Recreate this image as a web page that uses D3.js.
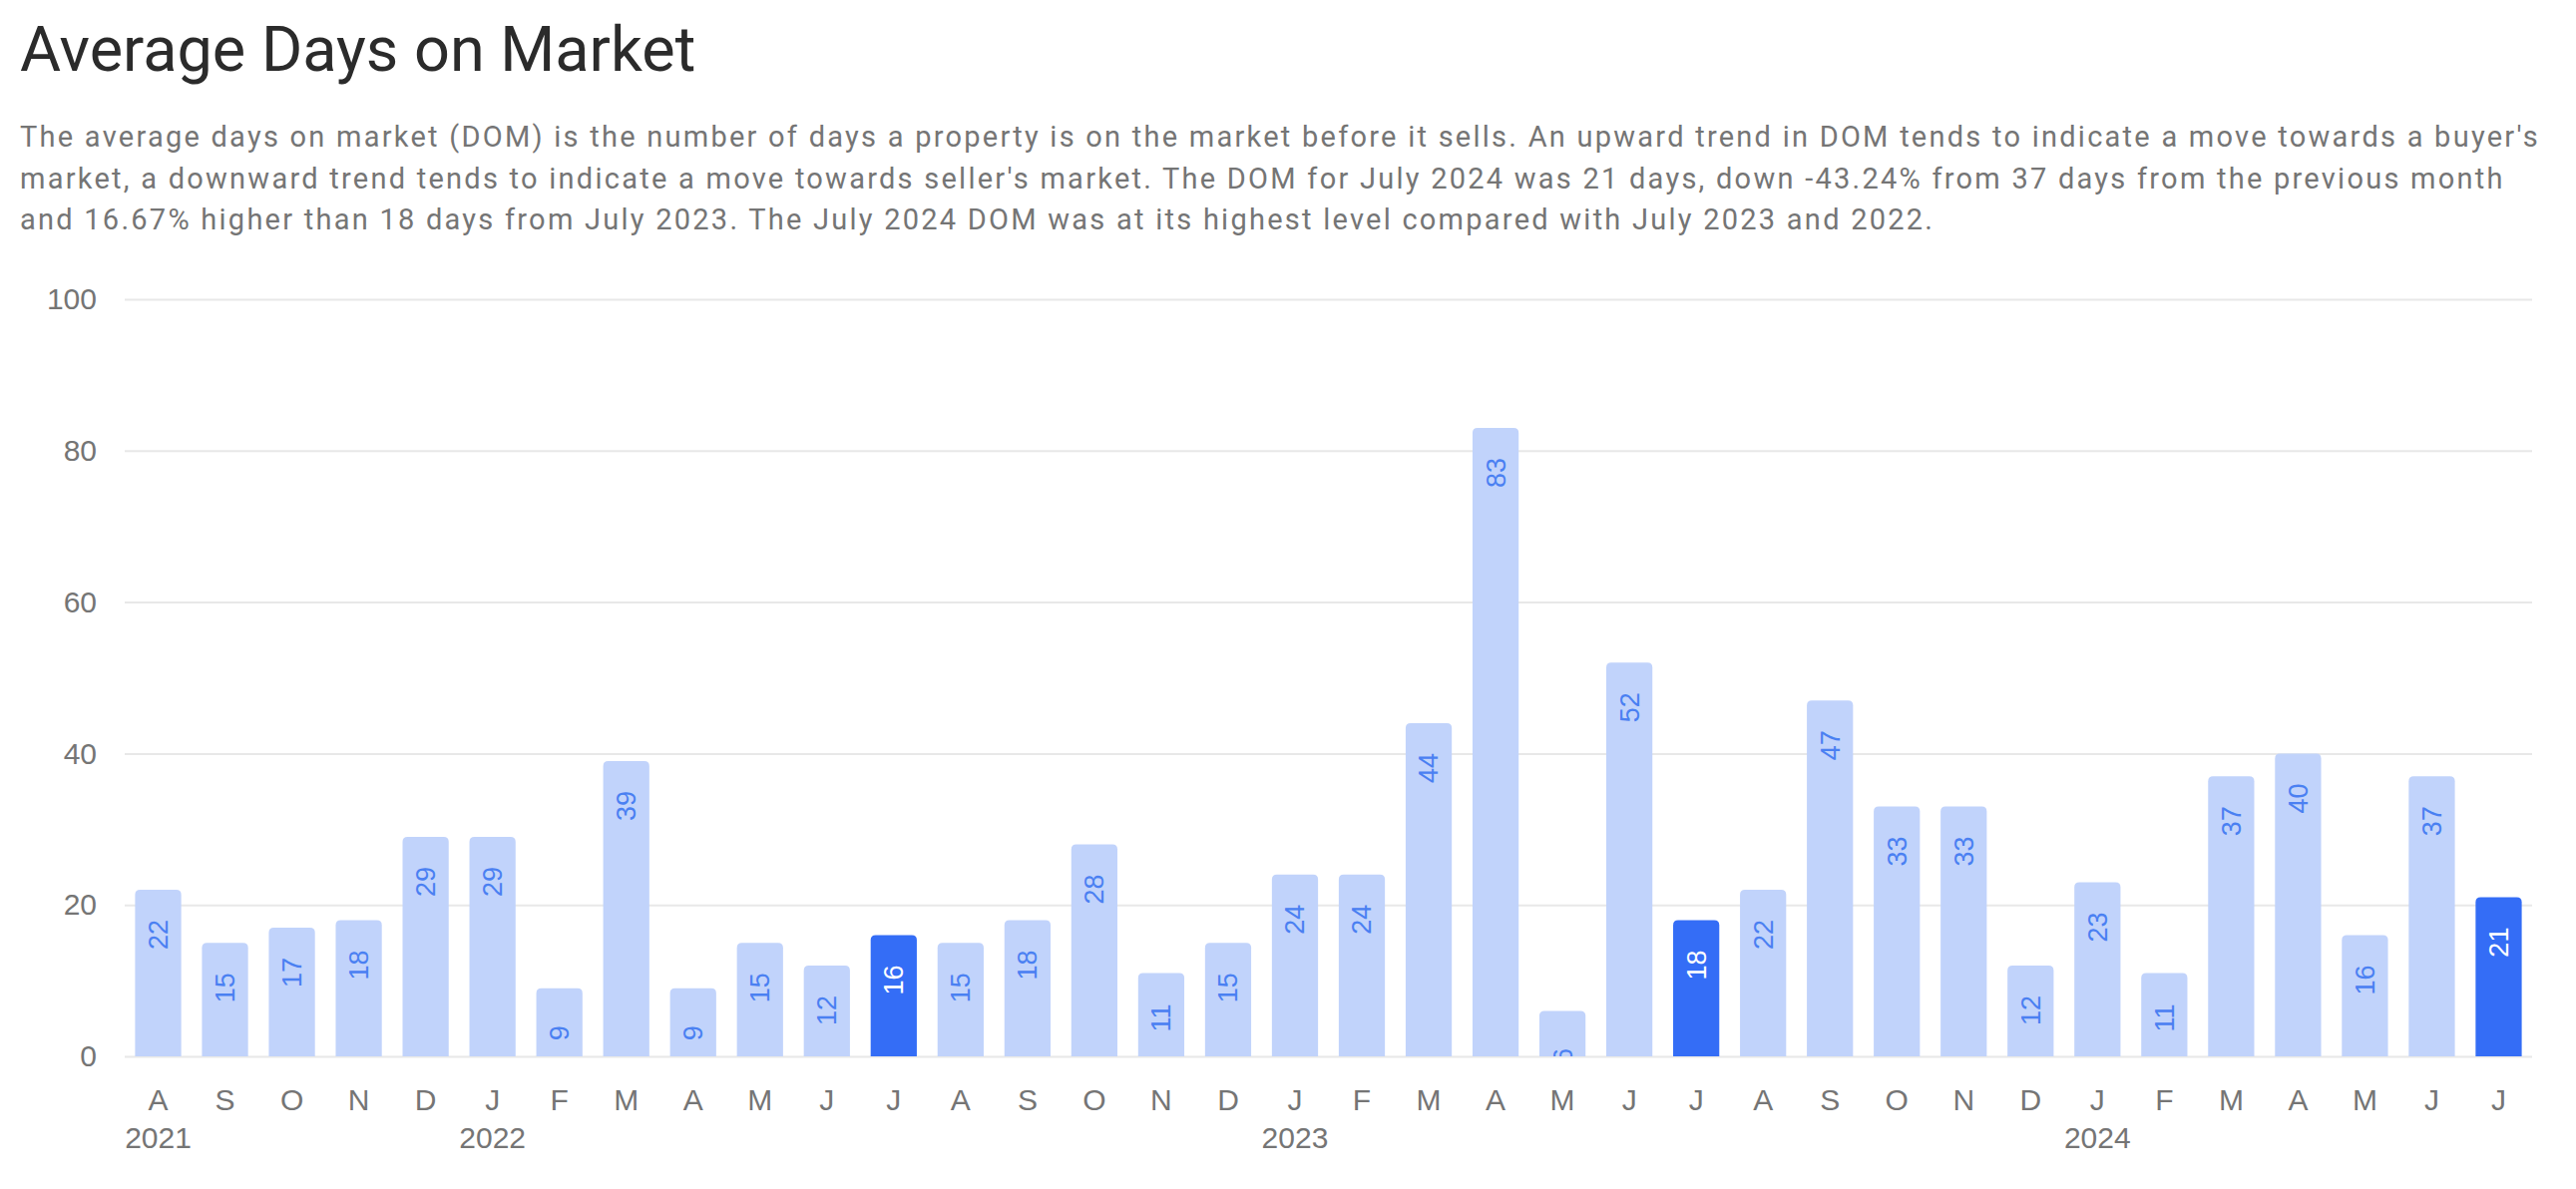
<!DOCTYPE html>
<html>
<head>
<meta charset="utf-8">
<script src="https://cdn.jsdelivr.net/npm/d3@7"></script>
<style>
  body { margin: 0; background: #fff; }
  svg { display: block; }
</style>
</head>
<body>
<div id="chart"></div>
<script>
// Monthly average days on market, Aug 2021 - Jul 2024
const monthLabels = ['A','S','O','N','D',
    'J','F','M','A','M','J','J','A','S','O','N','D',
    'J','F','M','A','M','J','J','A','S','O','N','D',
    'J','F','M','A','M','J','J'];
const domValues = [22, 15, 17, 18, 29,
    29, 9, 39, 9, 15, 12, 16, 15, 18, 28, 11, 15,
    24, 24, 44, 83, 6, 52, 18, 22, 47, 33, 33, 12,
    23, 11, 37, 40, 16, 37, 21];
const yearLabels = ['2021', '2022', '2023', '2024'];
const yearStartIndex = [0, 5, 17, 29];
const highlightIndex = [11, 23, 35];   // each July
const yTicks = [0, 20, 40, 60, 80, 100];

const titleText = 'Average Days on Market';
const descLines = [
    "The average days on market (DOM) is the number of days a property is on the market before it sells. An upward trend in DOM tends to indicate a move towards a buyer's",
    "market, a downward trend tends to indicate a move towards seller's market. The DOM for July 2024 was 21 days, down -43.24% from 37 days from the previous month",
    "and 16.67% higher than 18 days from July 2023. The July 2024 DOM was at its highest level compared with July 2023 and 2022."
];

const width = 2582;
const height = 1192;
const plot = { left: 125, right: 2538, top: 300, bottom: 1059 };
const descWidth = 2526;   // first description line runs almost full width

const data = domValues.map((v, i) => ({ i, value: v, month: monthLabels[i], hi: highlightIndex.includes(i) }));

const svg = d3.select('#chart').append('svg')
    .attr('width', width)
    .attr('height', height);

// title + description
svg.append('text')
    .attr('x', 20)
    .attr('y', 71)
    .attr('font-family', 'Roboto, sans-serif')
    .attr('font-size', 63)
    .attr('fill', '#2b2b2b')
    .text(titleText);

const desc = svg.append('text')
    .attr('font-family', 'Roboto, sans-serif')
    .attr('font-size', 29)
    .attr('fill', '#757575');
desc.selectAll('tspan')
    .data(descLines)
    .enter()
    .append('tspan')
    .attr('x', 20)
    .attr('y', (d, i) => 147 + i * 41.5)
    .text(d => d);

// spread letters so the first line fills the width like the original
const firstLen = desc.select('tspan').node().getComputedTextLength();
const spacing = Math.max(0, (descWidth - firstLen) / descLines[0].length);
desc.attr('letter-spacing', spacing);

const x = d3.scaleBand()
    .domain(d3.range(domValues.length))
    .range([plot.left, plot.right])
    .paddingInner(0.31)
    .paddingOuter(0.155);

const y = d3.scaleLinear()
    .domain([0, 100])
    .range([plot.bottom, plot.top]);

// y axis with gridlines
const yAxis = svg.append('g')
    .attr('transform', `translate(${plot.left},0)`)
    .call(d3.axisLeft(y).tickValues(yTicks).tickSize(-(plot.right - plot.left)).tickPadding(28));
yAxis.select('.domain').remove();
yAxis.selectAll('line').attr('stroke', '#e8e8e8').attr('stroke-width', 2);
yAxis.selectAll('text')
    .attr('font-family', '"Liberation Sans", Arial, sans-serif')
    .attr('font-size', 30)
    .attr('fill', '#757575');

// x axis month letters
const xAxis = svg.append('g')
    .attr('transform', `translate(0,${plot.bottom})`)
    .call(d3.axisBottom(x).tickFormat(i => monthLabels[i]).tickSize(0).tickPadding(33));
xAxis.select('.domain').remove();
xAxis.selectAll('text')
    .attr('font-family', '"Liberation Sans", Arial, sans-serif')
    .attr('font-size', 30)
    .attr('fill', '#757575');

// year labels under the first month of each year
svg.append('g')
    .selectAll('text')
    .data(yearLabels)
    .enter()
    .append('text')
    .attr('x', (d, k) => x(yearStartIndex[k]) + x.bandwidth() / 2)
    .attr('y', 1151)
    .attr('text-anchor', 'middle')
    .attr('font-family', '"Liberation Sans", Arial, sans-serif')
    .attr('font-size', 30)
    .attr('fill', '#757575')
    .text(d => d);

// bars with rounded tops
const r = 5;
function barPath(d) {
    const x0 = x(d.i), x1 = x0 + x.bandwidth();
    const y0 = y(d.value), y1 = y(0);
    return `M${x0},${y1}V${y0 + r}Q${x0},${y0} ${x0 + r},${y0}H${x1 - r}Q${x1},${y0} ${x1},${y0 + r}V${y1}Z`;
}

svg.append('defs').append('clipPath')
    .attr('id', 'plotClip')
    .append('rect')
    .attr('x', plot.left)
    .attr('y', 0)
    .attr('width', plot.right - plot.left)
    .attr('height', plot.bottom);

svg.append('g')
    .selectAll('path')
    .data(data)
    .enter()
    .append('path')
    .attr('d', barPath)
    .attr('fill', d => d.hi ? '#346df6' : '#c1d3fb');

// value labels, rotated, near top of each bar
svg.append('g')
    .attr('clip-path', 'url(#plotClip)')
    .selectAll('text')
    .data(data)
    .enter()
    .append('text')
    .attr('transform', d => `translate(${x(d.i) + x.bandwidth() / 2},${y(d.value) + 45}) rotate(-90)`)
    .attr('text-anchor', 'middle')
    .attr('dy', '0.35em')
    .attr('font-family', '"Liberation Sans", Arial, sans-serif')
    .attr('font-size', 27)
    .attr('fill', d => d.hi ? '#ffffff' : '#4a80f2')
    .text(d => d.value);
</script>
</body>
</html>
